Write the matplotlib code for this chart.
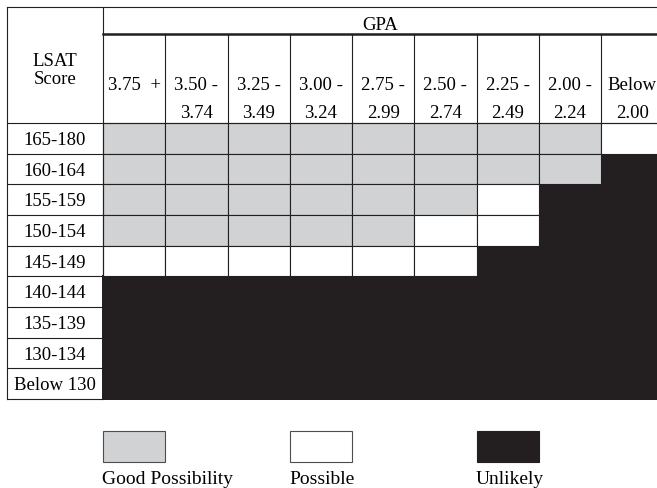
import matplotlib
matplotlib.use("Agg")
import matplotlib.pyplot as plt
from matplotlib.patches import Rectangle

# ---------------------------------------------------------------
#   LSAT score / GPA admission chances grid
# ---------------------------------------------------------------

lsat_scores = ["165-180", "160-164", "155-159", "150-154", "145-149",
               "140-144", "135-139", "130-134", "Below 130"]
gpa_line1 = ["3.75  +", "3.50 -", "3.25 -", "3.00 -", "2.75 -",
             "2.50 -", "2.25 -", "2.00 -", "Below"]
gpa_line2 = ["", "3.74", "3.49", "3.24", "2.99", "2.74", "2.49", "2.24", "2.00"]

# G = good possibility, P = possible, U = unlikely (one string per LSAT row)
chances = ["GGGGGGGGP",
           "GGGGGGGGU",
           "GGGGGGPUU",
           "GGGGGPPUU",
           "PPPPPPUUU",
           "UUUUUUUUU",
           "UUUUUUUUU",
           "UUUUUUUUU",
           "UUUUUUUUU"]

categories = ["G", "P", "U"]
category_labels = ["Good Possibility", "Possible", "Unlikely"]
category_colors = ["#d1d2d4", "#ffffff", "#231f20"]

# layout (pixels)
W, H = 657, 488
left, lab_right = 7, 103
top, gpa_y, head_bottom = 7, 34, 123
col_w = (601 - 103) / 8
row_h = (399 - 123) / 9
line_col = "#231f20"
lw = 0.8

fig = plt.figure(figsize=(W / 100, H / 100), dpi=100)
ax = fig.add_axes([0, 0, 1, 1])
ax.set_xlim(0, W)
ax.set_ylim(H, 0)
ax.axis("off")

serif = ["Liberation Serif", "DejaVu Serif"]
color_of = dict(zip(categories, category_colors))

# cells: unlikely first, then the outlined ones on top
for pass_no in (0, 1):
    for r, row in enumerate(chances):
        for c, code in enumerate(row):
            x0 = lab_right + c * col_w
            y0 = head_bottom + r * row_h
            if code == "U" and pass_no == 0:
                ax.add_patch(Rectangle((x0, y0), col_w, row_h, facecolor=color_of[code],
                                       edgecolor=color_of[code], lw=1.2, antialiased=False))
            elif code != "U" and pass_no == 1:
                ax.add_patch(Rectangle((x0, y0), col_w, row_h, facecolor=color_of[code],
                                       edgecolor=line_col, lw=lw))

n_rows = len(lsat_scores)
bottom = head_bottom + n_rows * row_h

# frame lines
ax.plot([left, W], [top, top], color=line_col, lw=lw)
ax.plot([left, left], [top, bottom], color=line_col, lw=lw)
ax.plot([lab_right, lab_right], [top, bottom], color=line_col, lw=lw)
ax.plot([lab_right, W], [gpa_y, gpa_y], color=line_col, lw=1.8)
ax.plot([left, W], [head_bottom, head_bottom], color=line_col, lw=lw)
for c in range(1, len(gpa_line1)):
    x = lab_right + c * col_w
    ax.plot([x, x], [gpa_y, head_bottom], color=line_col, lw=lw)
for r in range(1, n_rows + 1):
    y = head_bottom + r * row_h
    ax.plot([left, lab_right], [y, y], color=line_col, lw=lw)

# header text
lab_cx = (left + lab_right) / 2
ax.text(lab_cx, 65.5, "LSAT", ha="center", va="baseline", fontsize=13.5, family=serif)
ax.text(lab_cx, 83.5, "Score", ha="center", va="baseline", fontsize=13.5, family=serif)
ax.text((lab_right + W) / 2, 30.5, "GPA", ha="center", va="baseline", fontsize=13.5, family=serif)
for c, (t1, t2) in enumerate(zip(gpa_line1, gpa_line2)):
    cx = lab_right + (c + 0.5) * col_w
    ax.text(cx, 89.5, t1, ha="center", va="baseline", fontsize=13.5, family=serif)
    if t2:
        ax.text(cx, 117.5, t2, ha="center", va="baseline", fontsize=13.5, family=serif)

for r, lab in enumerate(lsat_scores):
    ax.text(lab_cx, head_bottom + r * row_h + 22, lab, ha="center", va="baseline",
            fontsize=13.5, family=serif)

# legend
legend_x = [103, 290, 477]
for x0, lab, fc in zip(legend_x, category_labels, category_colors):
    ec = "#4d4d4d" if fc != "#231f20" else fc
    ax.add_patch(Rectangle((x0, 431), 62, 31, facecolor=fc, edgecolor=ec, lw=lw))
    ax.text(x0 - 1, 484, lab, ha="left", va="baseline", fontsize=14, family=serif)

fig.savefig("out.png", dpi=100)
